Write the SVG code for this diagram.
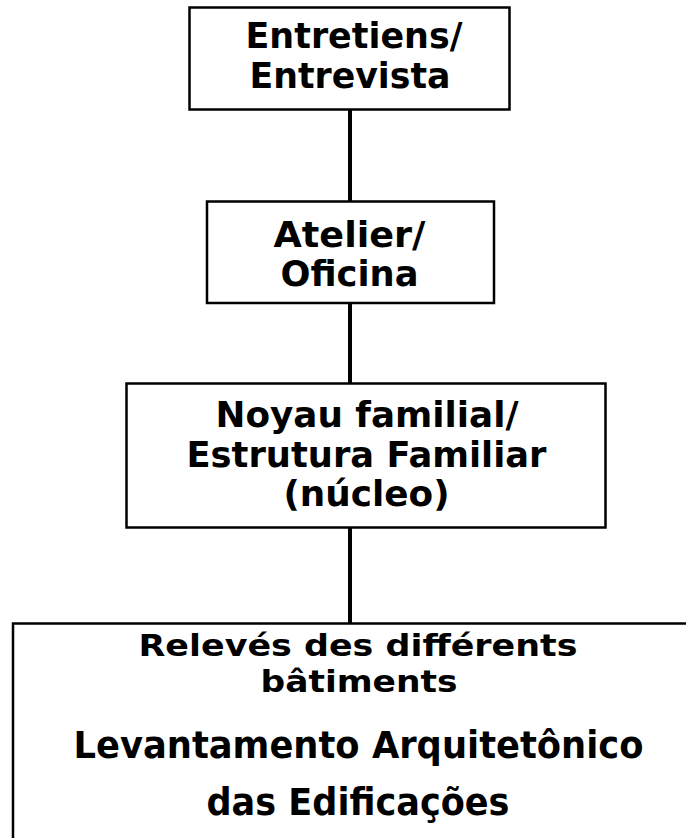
<svg xmlns="http://www.w3.org/2000/svg" width="686" height="838" viewBox="0 0 686 838">
<style>
.box{fill:#fff;stroke:#000;stroke-width:2.5}
.lbl{font-family:"DejaVu Sans","Liberation Sans",sans-serif;font-weight:bold;font-size:35px;fill:#000;text-anchor:middle}
.big{font-size:37px}
.mid{font-size:31px}
.con{stroke:#000;stroke-width:4;fill:none}
</style>
<rect width="686" height="838" fill="#fff"/>
<g id="connectors">
<line class="con" x1="350" y1="110" x2="350" y2="201"/>
<line class="con" x1="350" y1="303" x2="350" y2="383"/>
<line class="con" x1="350" y1="528" x2="350" y2="623"/>
</g>
<g id="node-entretiens">
<rect class="box" x="189.5" y="7.5" width="320" height="102"/>
<text class="lbl" x="354" y="48" textLength="217" lengthAdjust="spacingAndGlyphs">Entretiens/</text>
<text class="lbl" x="350" y="88" textLength="201" lengthAdjust="spacingAndGlyphs">Entrevista</text>
</g>
<g id="node-atelier">
<rect class="box" x="207" y="201.5" width="287" height="101.5"/>
<text class="lbl" x="349.5" y="247" textLength="152" lengthAdjust="spacingAndGlyphs">Atelier/</text>
<text class="lbl" x="349.5" y="286" textLength="138" lengthAdjust="spacingAndGlyphs">Oficina</text>
</g>
<g id="node-noyau">
<rect class="box" x="126.5" y="383.5" width="479" height="144"/>
<text class="lbl" x="367" y="427" textLength="303" lengthAdjust="spacingAndGlyphs">Noyau familial/</text>
<text class="lbl" x="366.5" y="467" textLength="360" lengthAdjust="spacingAndGlyphs">Estrutura Familiar</text>
<text class="lbl" x="366.5" y="506" textLength="166" lengthAdjust="spacingAndGlyphs">(núcleo)</text>
</g>
<g id="node-releves">
<path class="box" d="M686,623.5 H13 V838"/>
<text class="lbl mid" x="358" y="656" textLength="439" lengthAdjust="spacingAndGlyphs">Relevés des différents</text>
<text class="lbl mid" x="359" y="692" textLength="197" lengthAdjust="spacingAndGlyphs">bâtiments</text>
<text class="lbl big" x="358.5" y="758" textLength="570" lengthAdjust="spacingAndGlyphs">Levantamento Arquitetônico</text>
<text class="lbl big" x="358" y="815" textLength="303" lengthAdjust="spacingAndGlyphs">das Edificações</text>
</g>
</svg>
